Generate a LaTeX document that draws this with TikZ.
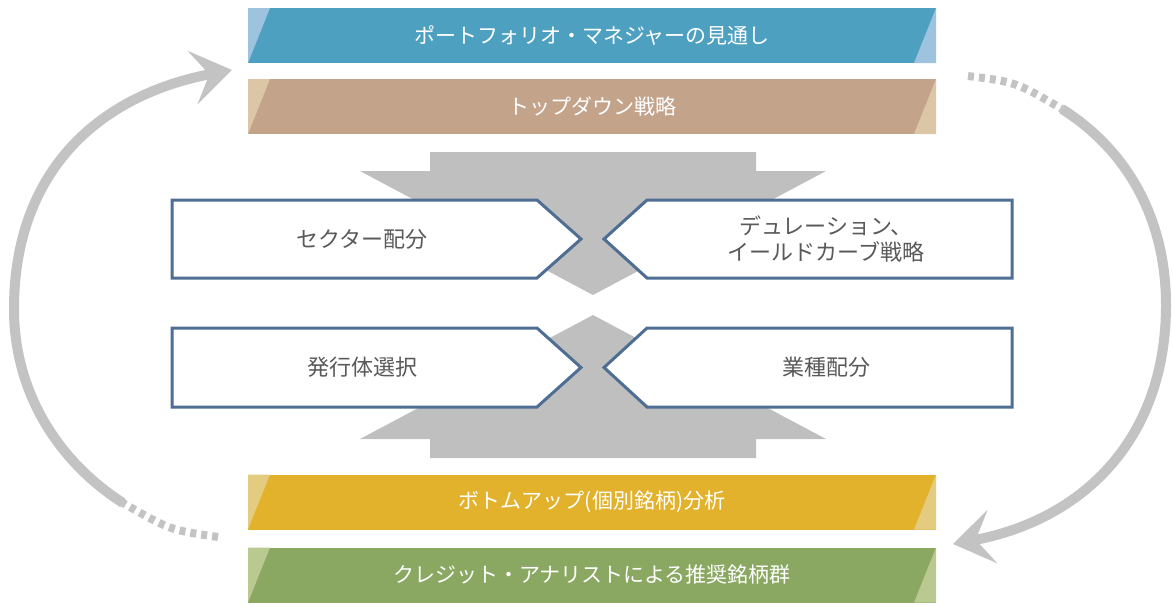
\documentclass[tikz,border=0pt]{standalone}
\usepackage{fontspec}
\newfontfamily\jp{Noto Sans CJK JP}
\usepackage{tikz}
\usetikzlibrary{arrows.meta}

\definecolor{viewblue}{HTML}{4EA0C1}
\definecolor{viewlight}{HTML}{9DC3DE}
\definecolor{downbrown}{HTML}{C4A38B}
\definecolor{downlight}{HTML}{DBC6A6}
\definecolor{upyellow}{HTML}{E2B22C}
\definecolor{uplight}{HTML}{E3CB80}
\definecolor{pickgreen}{HTML}{8BA862}
\definecolor{picklight}{HTML}{B9C98F}
\definecolor{funnelgray}{HTML}{BFBFBF}
\definecolor{ringgray}{HTML}{C3C3C3}
\definecolor{frameblue}{HTML}{4E6E93}
\definecolor{textgray}{HTML}{595959}

\begin{document}
\begin{tikzpicture}[
        x=1pt, y=-1pt,
        % the four coloured bars, light corner at each end
        bar/.style 2 args={fill=#1, minimum width=688pt, minimum height=55pt,
            inner sep=0pt, text=white, font=\jp\fontsize{21}{25}\selectfont,
            path picture={
                \fill[#2] (path picture bounding box.north west) -- ++(22pt,0pt)
                    -- (path picture bounding box.south west) -- cycle;
                \fill[#2] (path picture bounding box.south east) -- ++(-22pt,0pt)
                    -- (path picture bounding box.north east) -- cycle;
            }},
        funnel/.style={fill=funnelgray},
        cellframe/.style={draw=frameblue, line width=3pt, fill=white},
        cell/.style={text=textgray, align=center, font=\jp\fontsize{22}{26}\selectfont},
        % the gray loop arrows
        ring/.style={draw=ringgray, line width=10pt},
        ringdash/.style={draw=ringgray, line width=8pt, dash pattern=on 6pt off 5pt},
        headed/.style={-{Stealth[length=40pt, width=54pt, inset=17pt]}}
    ]
    \useasboundingbox (0,0) rectangle (1173,606);

    \node[bar={viewblue}{viewlight}] (outlook) at (592,35.5) {ポートフォリオ・マネジャーの見通し};
    \node[bar={downbrown}{downlight}] (topdown) at (592,106.5) {トップダウン戦略};
    \node[bar={upyellow}{uplight}] (bottomup) at (592,502) {ボトムアップ(個別銘柄)分析};
    \node[bar={pickgreen}{picklight}] (picks) at (592,575) {クレジット・アナリストによる推奨銘柄群};

    % gray funnels behind the boxes
    \fill[funnel] (430,152) -- (756,152) -- (756,171) -- (826,171) -- (593,295)
        -- (360,171) -- (430,171) -- cycle;
    \fill[funnel] (430,458) -- (756,458) -- (756,439) -- (826,439) -- (593,315)
        -- (360,439) -- (430,439) -- cycle;

    % boxes
    \draw[cellframe] (172,200) -- (537,200) -- (581,239) -- (537,278) -- (172,278) -- cycle;
    \draw[cellframe] (1012,200) -- (647,200) -- (604,239) -- (647,278) -- (1012,278) -- cycle;
    \draw[cellframe] (172,328) -- (537,328) -- (581,367.5) -- (537,407) -- (172,407) -- cycle;
    \draw[cellframe] (1012,328) -- (647,328) -- (604,367.5) -- (647,407) -- (1012,407) -- cycle;

    \node[cell] (sector) at (362,239) {セクター配分};
    \node[cell] (duration) at (826,239) {デュレーション、\\イールドカーブ戦略};
    \node[cell] (issuer) at (362,367.5) {発行体選択};
    \node[cell] (industry) at (826,367.5) {業種配分};

    % loop on the left, back up to the outlook
    \coordinate (lfrom) at (218,537);
    \coordinate (lbend) at (123,503);
    \coordinate (lto) at (232,70);
    \draw[ringdash] (lfrom) .. controls (170,530) .. (lbend);
    \draw[ring, headed] (lbend) .. controls (56,460) and (14,390) .. (14,309)
        .. controls (14,170) and (100,95) .. (lto);

    % loop on the right, down to the picks
    \coordinate (rfrom) at (968,76);
    \coordinate (rbend) at (1062,109);
    \coordinate (rto) at (953,544);
    \draw[ringdash] (rfrom) .. controls (1016,82) .. (rbend);
    \draw[ring, headed] (rbend) .. controls (1130,152) and (1166,222) .. (1166,305)
        .. controls (1166,440) and (1082,520) .. (rto);
\end{tikzpicture}
\end{document}
